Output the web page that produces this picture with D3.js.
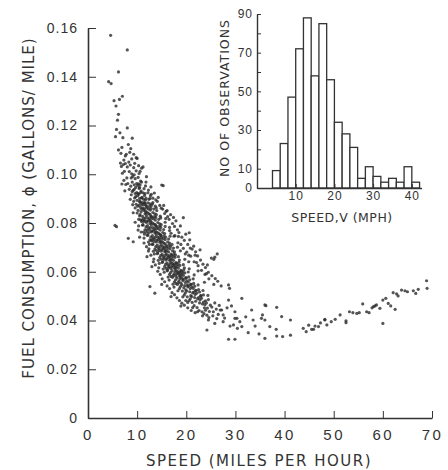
<!DOCTYPE html>
<html>
<head>
<meta charset="utf-8">
<script src="https://cdn.jsdelivr.net/npm/d3@7"></script>
<style>
  body { margin: 0; background: #fff; }
  svg { display: block; font-family: "DejaVu Sans", sans-serif; }
  .axis text { fill: #333; }
  .axis path, .axis line { stroke: #333; }
</style>
</head>
<body>
<svg id="chart"></svg>
<script>
// tick values
const fuelTicks = [0, 0.02, 0.04, 0.06, 0.08, 0.10, 0.12, 0.14, 0.16];
const speedTicks = [0, 10, 20, 30, 40, 50, 60, 70];
const countTicks = [0, 10, 20, 30, 40, 50, 60, 70, 80, 90];
const countLabels = [0, 10, 30, 50, 70, 90];
const histSpeedTicks = [10, 20, 30, 40];

// histogram (2 mph bins)
const binStart = [4, 6, 8, 10, 12, 14, 16, 18, 20, 22, 24, 26, 28, 30, 32, 34, 36, 38, 40];
const binCount = [9, 23, 47, 72, 88, 58, 85, 56, 34, 28, 21, 5, 11, 6, 3, 5, 3, 11, 3];

// observations: [speed mph, fuel gallons/mile]
const obs = [
  [4.6,.1570],[8.0,.1510],[6.2,.1420],[4.2,.1380],[4.7,.1372],[5.3,.1302],[6.4,.1307],[7.0,.1320],[5.7,.1280],[6.2,.1246],
  [6.0,.1222],[8.0,.1190],[5.8,.1184],[6.5,.1170],[5.6,.1154],[7.1,.1150],[6.9,.1110],[6.2,.1100],[8.5,.1090],[6.7,.1086],
  [7.6,.1075],[10.0,.1065],[7.3,.1058],[8.3,.1050],[7.2,.1040],[8.0,.1030],[11.2,.1030],[10.9,.1025],[11.9,.0990],[6.9,.0960],
  [15.3,.0953],[5.8,.0785],[5.5,.0790],[8.2,.0737],
  [7.4,.1012],[7.9,.0985],[6.8,.1032],[7.7,.0958],[7.5,.0932],[7.8,.1082],[6.6,.1046],[7.0,.1004],[8.2,.1122],[7.3,.0975],
  [8.4,.1011],[7.6,.1044],[8.1,.0962],[8.4,.0938],[8.7,.1105],[9.3,.1082],[9.0,.1148],[9.8,.1068],[10.3,.1035],
  [8.6,.1038],[8.7,.0951],[8.9,.1002],[8.6,.0897],[8.8,.0916],[9.0,.0968],[8.9,.1063],[9.1,.0991],[9.2,.0934],[9.3,.1027],
  [9.4,.0957],[9.5,.0903],[9.6,.0982],[9.7,.0946],[9.8,.0877],[9.9,.0962],[9.1,.0875],[9.4,.0998],[9.6,.0921],[9.8,.1014],
  [9.2,.0842],[9.7,.0908],[9.0,.0929],[9.5,.1045],[9.3,.0889],[9.9,.0925],[9.2,.0723],[8.8,.0985],[9.6,.0862],[9.4,.0938],
  [10.1,.0954],[10.3,.0918],[10.5,.0887],[10.7,.0972],[10.2,.0852],[10.9,.0903],[10.4,.1003],[10.6,.0834],[10.8,.0931],[10.0,.0893],
  [10.3,.0815],[10.5,.0946],[10.7,.0864],[10.9,.0806],[10.1,.0912],[10.4,.0873],[10.6,.0957],[10.8,.0846],[10.2,.0987],[10.5,.0901],
  [10.7,.0925],[10.3,.0788],[10.9,.0968],[10.0,.0841],[10.6,.0889],[10.4,.0942],[10.8,.0881],[10.2,.0921],[10.5,.0829],[10.9,.0857],
  [10.1,.0869],[10.7,.0813],[10.3,.0961],[10.6,.1012],[11.0,.0875],
  [11.1,.0884],[11.3,.0852],[11.5,.0913],[11.7,.0821],[11.2,.0793],[11.9,.0868],[11.4,.0941],[11.6,.0772],[11.8,.0843],[11.0,.0905],
  [11.3,.0763],[11.5,.0858],[11.7,.0894],[11.9,.0802],[11.1,.0827],[11.4,.0876],[11.6,.0921],[11.8,.0784],[11.2,.0862],[11.5,.0811],
  [11.7,.0849],[11.3,.0897],[11.9,.0831],[11.6,.0838],[11.4,.0806],[11.8,.0902],[11.2,.0924],[11.5,.0754],[11.9,.0762],[11.1,.0791],
  [11.7,.0952],[11.3,.0818],[11.6,.0881],[11.8,.0873],[11.4,.0738],[11.0,.0812],[11.8,.0968],[11.5,.0884],
  [12.1,.0843],[12.3,.0809],[12.5,.0868],[12.7,.0782],[12.2,.0751],[12.9,.0826],[12.4,.0897],[12.6,.0731],[12.8,.0804],[12.0,.0862],
  [12.3,.0722],[12.5,.0817],[12.7,.0853],[12.9,.0763],[12.1,.0789],[12.4,.0838],[12.6,.0879],[12.8,.0742],[12.2,.0821],[12.5,.0772],
  [12.7,.0811],[12.3,.0857],[12.9,.0793],[12.0,.0808],[12.6,.0798],[12.4,.0761],[12.8,.0861],[12.2,.0883],[12.5,.0712],[12.9,.0727],
  [12.1,.0749],[12.7,.0912],[12.3,.0779],[12.6,.0836],[12.8,.0828],[12.4,.0694],[12.9,.0872],[12.0,.0771],[12.6,.0539],[12.2,.0924],
  [12.8,.0948],
  [13.1,.0801],[13.3,.0768],[13.5,.0826],[13.7,.0742],[13.2,.0713],[13.9,.0787],[13.4,.0857],[13.6,.0693],[13.8,.0762],[13.0,.0821],
  [13.3,.0684],[13.5,.0777],[13.7,.0812],[13.9,.0722],[13.1,.0748],[13.4,.0796],[13.6,.0838],[13.8,.0703],[13.2,.0781],[13.5,.0733],
  [13.7,.0771],[13.3,.0817],[13.9,.0751],[13.0,.0768],[13.6,.0759],[13.4,.0724],[13.8,.0823],[13.2,.0843],[13.5,.0673],[13.9,.0688],
  [13.1,.0712],[13.7,.0869],[13.3,.0738],[13.6,.0794],[13.8,.0789],[13.4,.0652],[13.9,.0834],[13.0,.0731],[13.6,.0512],[13.2,.0884],
  [14.1,.0762],[14.3,.0731],[14.5,.0786],[14.7,.0704],[14.2,.0678],[14.9,.0748],[14.4,.0815],[14.6,.0658],[14.8,.0723],[14.0,.0779],
  [14.3,.0647],[14.5,.0739],[14.7,.0771],[14.9,.0684],[14.1,.0709],[14.4,.0757],[14.6,.0797],[14.8,.0667],[14.2,.0742],[14.5,.0694],
  [14.7,.0732],[14.3,.0776],[14.9,.0712],[14.0,.0729],[14.6,.0721],[14.4,.0687],[14.8,.0782],[14.2,.0802],[14.5,.0634],[14.9,.0651],
  [14.1,.0674],[14.7,.0828],[14.3,.0699],[14.6,.0754],[14.8,.0749],[14.4,.0616],[14.9,.0793],[14.0,.0851],
  [15.1,.0724],[15.3,.0693],[15.5,.0747],[15.7,.0667],[15.2,.0641],[15.9,.0709],[15.4,.0773],[15.6,.0622],[15.8,.0684],[15.0,.0739],
  [15.3,.0611],[15.5,.0701],[15.7,.0732],[15.9,.0648],[15.1,.0671],[15.4,.0718],[15.6,.0757],[15.8,.0631],[15.2,.0703],[15.5,.0657],
  [15.7,.0694],[15.3,.0736],[15.9,.0674],[15.0,.0691],[15.6,.0683],[15.4,.0651],[15.8,.0742],[15.2,.0761],[15.5,.0598],[15.9,.0614],
  [15.1,.0638],[15.7,.0786],[15.3,.0662],[15.6,.0716],[15.8,.0818],[15.0,.0956],
  [16.1,.0688],[16.3,.0657],[16.5,.0709],[16.7,.0632],[16.2,.0607],[16.9,.0672],[16.4,.0734],[16.6,.0589],[16.8,.0649],[16.0,.0702],
  [16.3,.0578],[16.5,.0664],[16.7,.0694],[16.9,.0613],[16.1,.0636],[16.4,.0681],[16.6,.0718],[16.8,.0597],[16.2,.0667],[16.5,.0622],
  [16.7,.0658],[16.3,.0698],[16.9,.0639],[16.0,.0654],[16.6,.0647],[16.4,.0616],[16.8,.0704],[16.2,.0722],[16.5,.0566],[16.9,.0581],
  [16.1,.0604],[16.7,.0746],[16.3,.0627],[16.6,.0782],
  [17.1,.0653],[17.3,.0624],[17.5,.0673],[17.7,.0601],[17.2,.0577],[17.9,.0638],[17.4,.0697],[17.6,.0559],[17.8,.0616],[17.0,.0667],
  [17.3,.0549],[17.5,.0631],[17.7,.0659],[17.9,.0582],[17.1,.0604],[17.4,.0647],[17.6,.0682],[17.8,.0567],[17.2,.0633],[17.5,.0591],
  [17.7,.0625],[17.3,.0663],[17.9,.0607],[17.0,.0621],[17.6,.0614],[17.4,.0585],[17.8,.0669],[17.2,.0686],[17.5,.0537],[17.9,.0552],
  [17.1,.0712],[17.7,.0748],
  [18.1,.0621],[18.3,.0593],[18.5,.0639],[18.7,.0571],[18.2,.0548],[18.9,.0606],[18.4,.0662],[18.6,.0531],[18.8,.0585],[18.0,.0634],
  [18.3,.0522],[18.5,.0599],[18.7,.0626],[18.9,.0553],[18.1,.0574],[18.4,.0615],[18.6,.0648],[18.8,.0539],[18.2,.0601],[18.5,.0562],
  [18.7,.0594],[18.3,.0629],[18.9,.0577],[18.0,.0591],[18.6,.0583],[18.4,.0556],[18.8,.0686],[18.2,.0701],
  [19.1,.0591],[19.3,.0564],[19.5,.0608],[19.7,.0543],[19.2,.0521],[19.9,.0576],[19.4,.0629],[19.6,.0505],[19.8,.0556],[19.0,.0603],
  [19.3,.0497],[19.5,.0569],[19.7,.0595],[19.9,.0526],[19.1,.0546],[19.4,.0585],[19.6,.0616],[19.8,.0513],[19.2,.0572],[19.5,.0534],
  [19.7,.0651],[19.3,.0598],[19.9,.0482],[19.4,.0822],[19.8,.0673],
  [20.1,.0563],[20.3,.0538],[20.5,.0579],[20.7,.0518],[20.2,.0497],[20.9,.0549],[20.4,.0599],[20.6,.0482],[20.8,.0531],[20.0,.0574],
  [20.3,.0474],[20.5,.0542],[20.7,.0567],[20.9,.0502],[20.1,.0521],[20.4,.0558],[20.6,.0612],[20.8,.0489],[20.2,.0546],[20.6,.0760],
  [20.8,.0697],[20.5,.0641],
  [21.1,.0537],[21.3,.0513],[21.5,.0552],[21.7,.0494],[21.2,.0474],[21.9,.0524],[21.4,.0571],[21.6,.0461],[21.8,.0507],[21.0,.0547],
  [21.3,.0453],[21.5,.0517],[21.7,.0541],[21.9,.0479],[21.1,.0498],[21.4,.0532],[21.6,.0587],[21.8,.0668],
  [22.1,.0512],[22.3,.0489],[22.5,.0527],[22.7,.0472],[22.2,.0453],[22.9,.0501],[22.4,.0546],[22.6,.0441],[22.8,.0485],[22.0,.0522],
  [22.3,.0436],[22.5,.0494],[22.7,.0517],[22.8,.0690],[22.4,.0604],
  [23.1,.0491],[23.3,.0468],[23.5,.0505],[23.7,.0452],[23.2,.0436],[23.9,.0481],[23.4,.0523],[23.6,.0428],[23.8,.0465],[23.0,.0502],
  [23.3,.0419],[23.5,.0476],[23.7,.0557],[23.9,.0442],
  [24.1,.0472],[24.3,.0451],[24.5,.0486],[24.7,.0437],[24.2,.0422],[24.9,.0463],[24.4,.0503],[24.6,.0412],[24.3,.0628],[24.2,.0361],
  [24.5,.0402],
  // upper side of the band
  [12.3,.0935],[12.9,.0918],[13.2,.0902],[13.8,.0895],[13.5,.0923],[14.1,.0889],[14.6,.0872],[14.9,.0861],[14.3,.0905],[15.2,.0857],
  [15.6,.0839],[15.9,.0848],[15.4,.0872],[16.2,.0826],[16.5,.0815],[16.8,.0834],[16.1,.0851],[17.2,.0798],[17.6,.0786],[17.9,.0809],
  [17.4,.0823],[18.2,.0772],[18.5,.0761],[18.8,.0788],[18.4,.0745],[19.1,.0742],[19.6,.0729],[19.9,.0754],[20.3,.0712],[20.7,.0731],
  [21.2,.0693],[21.5,.0705],[21.9,.0682],[22.3,.0665],[22.9,.0648],[23.4,.0631],[23.9,.0617],[24.5,.0598],[25.2,.0584],[25.9,.0572],
  [13.9,.0862],[14.8,.0821],[15.7,.0803],[16.6,.0769],[17.5,.0746],[18.3,.0719],[19.4,.0696],[20.1,.0681],[20.9,.0664],[21.6,.0641],
  [22.4,.0625],[23.1,.0606],[23.8,.0589],[24.6,.0571],[12.6,.0901],[13.1,.0878],[16.9,.0758],[18.9,.0712],[20.5,.0668],[22.1,.0638],
  [24.1,.0592],[26.4,.0561],[25.6,.0548],[27.1,.0542],
  // lower side of the band
  [10.2,.0771],[10.8,.0763],[11.4,.0718],[11.9,.0703],[12.3,.0685],[12.8,.0668],[13.3,.0641],[13.7,.0628],[14.2,.0602],[14.7,.0589],
  [15.1,.0571],[15.6,.0559],[16.1,.0542],[16.6,.0531],[17.1,.0514],[17.6,.0506],[18.1,.0493],[18.6,.0482],[19.1,.0471],[19.6,.0463],
  [20.3,.0452],[21.0,.0441],[21.8,.0432],[9.6,.0803],[10.5,.0742],[12.0,.0662],[13.0,.0621],[15.0,.0548],[16.9,.0498],[18.9,.0459],
  [25.2,.0455],[25.5,.0436],[25.8,.0472],[25.4,.0419],[25.6,.0651],[25.8,.0388],[26.1,.0447],[26.3,.0673],[25.8,.0660],[26.5,.0425],
  [26.9,.0443],[26.2,.0408],[25.1,.0656],[26.7,.0462],
  [27.5,.0423],[27.2,.0443],[27.5,.0395],[28.8,.0532],[28.6,.0484],[29.2,.0460],[29.9,.0436],[29.9,.0409],[28.9,.0377],[29.6,.0382],
  [29.9,.0323],[28.6,.0323],[28.6,.0546],[27.8,.0410],[28.3,.0452],
  [31.3,.0491],[30.3,.0409],[30.9,.0395],[31.3,.0375],[30.4,.0368],[32.6,.0350],[33.3,.0443],[33.6,.0402],[34.0,.0377],[35.5,.0423],
  [35.3,.0409],[36.0,.0402],[36.0,.0464],[36.2,.0461],[37.0,.0375],[36.0,.0327],[38.4,.0454],[38.3,.0364],[38.4,.0336],[39.4,.0416],
  [39.6,.0334],[41.2,.0402],[41.2,.0340],[32.1,.0415],[34.8,.0345],
  [43.8,.0368],[44.4,.0354],[45.5,.0364],[45.9,.0364],[46.2,.0377],[46.9,.0375],[48.2,.0402],[48.2,.0405],[48.6,.0382],[50.3,.0405],
  [51.3,.0423],[52.5,.0399],[52.5,.0391],[53.2,.0436],[53.9,.0432],[54.7,.0429],[55.2,.0432],[55.9,.0468],[56.7,.0436],[57.2,.0432],
  [58.1,.0457],[58.4,.0460],[58.7,.0464],[59.4,.0450],[60.0,.0388],[60.0,.0484],[60.6,.0491],[61.1,.0470],[61.6,.0460],[62.5,.0446],
  [62.1,.0514],[62.8,.0509],[63.8,.0525],[64.5,.0522],[65.0,.0518],[66.2,.0522],[66.7,.0511],[67.2,.0528],[68.9,.0563],[69.0,.0532],
  [49.5,.0395],[47.3,.0390],[44.9,.0381],[57.8,.0452],[63.1,.0501]
];

const width = 448;
const height = 470;

const svg = d3.select('#chart')
    .attr('width', width)
    .attr('height', height);

// main scatter
const x = d3.scaleLinear().domain([0, 70]).range([88, 432]);
const y = d3.scaleLinear().domain([0, 0.16]).range([418, 28]);

svg.append('g')
    .attr('class', 'axis')
    .attr('transform', 'translate(88,0)')
    .call(d3.axisLeft(y).tickValues(fuelTicks).tickSize(-8).tickSizeOuter(0).tickPadding(10)
        .tickFormat(d => d === 0 ? '0' : d3.format('.2f')(d)))
    .call(g => g.selectAll('text').style('font-size', '14px').style('letter-spacing', '1px'))
    .call(g => g.select('.domain').attr('stroke-width', 1.6));

svg.append('g')
    .attr('class', 'axis')
    .attr('transform', 'translate(0,418)')
    .call(d3.axisBottom(x).tickValues(speedTicks).tickSize(-7).tickSizeOuter(0).tickPadding(11))
    .call(g => g.selectAll('text').style('font-size', '15px').style('letter-spacing', '2.5px'))
    .call(g => g.select('.domain').attr('stroke-width', 1.6));

svg.append('g')
    .selectAll('circle')
    .data(obs)
    .enter().append('circle')
    .attr('cx', d => x(d[0]))
    .attr('cy', d => y(d[1]))
    .attr('r', 1.6)
    .attr('fill', '#2a2a2a')
    .attr('fill-opacity', 0.8);

svg.append('text')
    .attr('x', 259)
    .attr('y', 466)
    .attr('text-anchor', 'middle')
    .style('font-size', '15px')
    .style('letter-spacing', '1.5px')
    .attr('fill', '#333')
    .text('SPEED (MILES PER HOUR)');

svg.append('text')
    .attr('transform', 'translate(34,208) rotate(-90)')
    .attr('text-anchor', 'middle')
    .style('font-size', '15px')
    .style('letter-spacing', '1px')
    .attr('fill', '#333')
    .text('FUEL CONSUMPTION, ϕ (GALLONS/ MILE)');

// inset histogram
const hx = d3.scaleLinear().domain([0, 42.5]).range([257, 421.5]);
const hy = d3.scaleLinear().domain([0, 90]).range([188, 14]);

const inset = svg.append('g');

inset.selectAll('rect')
    .data(binStart)
    .enter().append('rect')
    .attr('x', d => hx(d))
    .attr('y', (d, i) => hy(binCount[i]))
    .attr('width', d => hx(d + 2) - hx(d))
    .attr('height', (d, i) => hy(0) - hy(binCount[i]))
    .attr('fill', '#fff')
    .attr('stroke', '#333')
    .attr('stroke-width', 1.3);

inset.append('g')
    .attr('class', 'axis')
    .attr('transform', 'translate(257,0)')
    .call(d3.axisLeft(hy).tickValues(countTicks).tickSize(-4).tickSizeOuter(0).tickPadding(4)
        .tickFormat(d => countLabels.includes(d) ? d : ''))
    .call(g => g.selectAll('text').style('font-size', '12px').style('letter-spacing', '1px'))
    .call(g => g.select('.domain').attr('stroke-width', 1.4));

inset.append('g')
    .attr('class', 'axis')
    .attr('transform', 'translate(0,188)')
    .call(d3.axisBottom(hx).tickValues(histSpeedTicks).tickSize(-4).tickSizeOuter(0).tickPadding(3))
    .call(g => g.selectAll('text').style('font-size', '12px').style('letter-spacing', '1px'))
    .call(g => g.select('.domain').attr('stroke-width', 1.4));

inset.append('text')
    .attr('x', 342)
    .attr('y', 222)
    .attr('text-anchor', 'middle')
    .style('font-size', '12.5px')
    .style('letter-spacing', '0.5px')
    .attr('fill', '#333')
    .text('SPEED,V (MPH)');

inset.append('text')
    .attr('transform', 'translate(229,98) rotate(-90)')
    .attr('text-anchor', 'middle')
    .style('font-size', '12.5px')
    .style('letter-spacing', '1px')
    .attr('fill', '#333')
    .text('NO OF OBSERVATIONS');
</script>
</body>
</html>
